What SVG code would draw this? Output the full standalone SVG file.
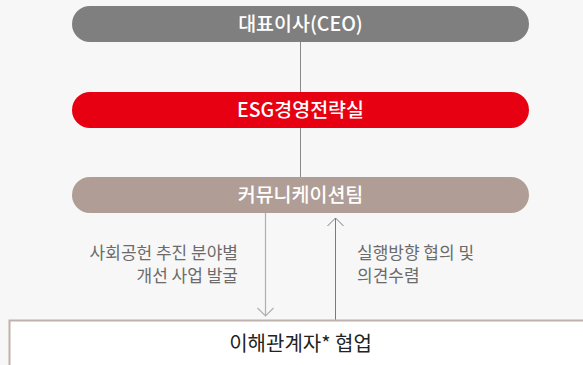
<svg xmlns="http://www.w3.org/2000/svg" width="583" height="365" viewBox="0 0 583 365">
<style>
.pill{font-family:"Noto Sans CJK KR","Noto Sans",sans-serif;font-size:19.5px;fill:#fff;text-anchor:middle;font-weight:500}
.lbl{font-family:"Noto Sans CJK KR","Noto Sans",sans-serif;font-size:17px;fill:#6b6b6b}
.box{font-family:"Noto Sans CJK KR","Noto Sans",sans-serif;font-size:20px;fill:#222;text-anchor:middle}
</style>
<rect width="583" height="365" fill="#f7f7f7"/>
<g id="connectors" fill="none">
<line x1="300.5" y1="42" x2="300.5" y2="177" stroke="#8a8a8a" stroke-width="1"/>
<line x1="265.5" y1="213" x2="265.5" y2="316" stroke="#b0b0b0" stroke-width="1.2"/>
<polyline points="257.5,308 265.5,316 273.5,308" stroke="#b0b0b0" stroke-width="1.2"/>
<line x1="335.5" y1="218" x2="335.5" y2="320" stroke="#7a7a7a" stroke-width="1"/>
<polyline points="327.5,226 335.5,218 343.5,226" stroke="#7a7a7a" stroke-width="1"/>
</g>
<g id="ceo">
<rect x="72" y="6" width="457" height="36" rx="18" fill="#7f7f7f"/>
<text class="pill" x="300.5" y="31">대표이사(CEO)</text>
</g>
<g id="esg">
<rect x="72" y="92" width="457" height="36" rx="18" fill="#e60012"/>
<text class="pill" x="300.5" y="117" font-weight="700">ESG경영전략실</text>
</g>
<g id="comm">
<rect x="72" y="177" width="457" height="36" rx="18" fill="#b09d95"/>
<text class="pill" x="300.5" y="202" font-weight="700">커뮤니케이션팀</text>
</g>
<g id="label-left">
<text class="lbl" x="238" y="259" text-anchor="end">사회공헌 추진 분야별</text>
<text class="lbl" x="238" y="282" text-anchor="end">개선 사업 발굴</text>
</g>
<g id="label-right">
<text class="lbl" x="357" y="259">실행방향 협의 및</text>
<text class="lbl" x="357" y="282">의견수렴</text>
</g>
<g id="stakeholders">
<rect x="9.5" y="320.5" width="590" height="60" fill="#fff" stroke="#bfb1ab" stroke-width="2"/>
<text class="box" x="300.5" y="351">이해관계자* 협업</text>
</g>
</svg>
